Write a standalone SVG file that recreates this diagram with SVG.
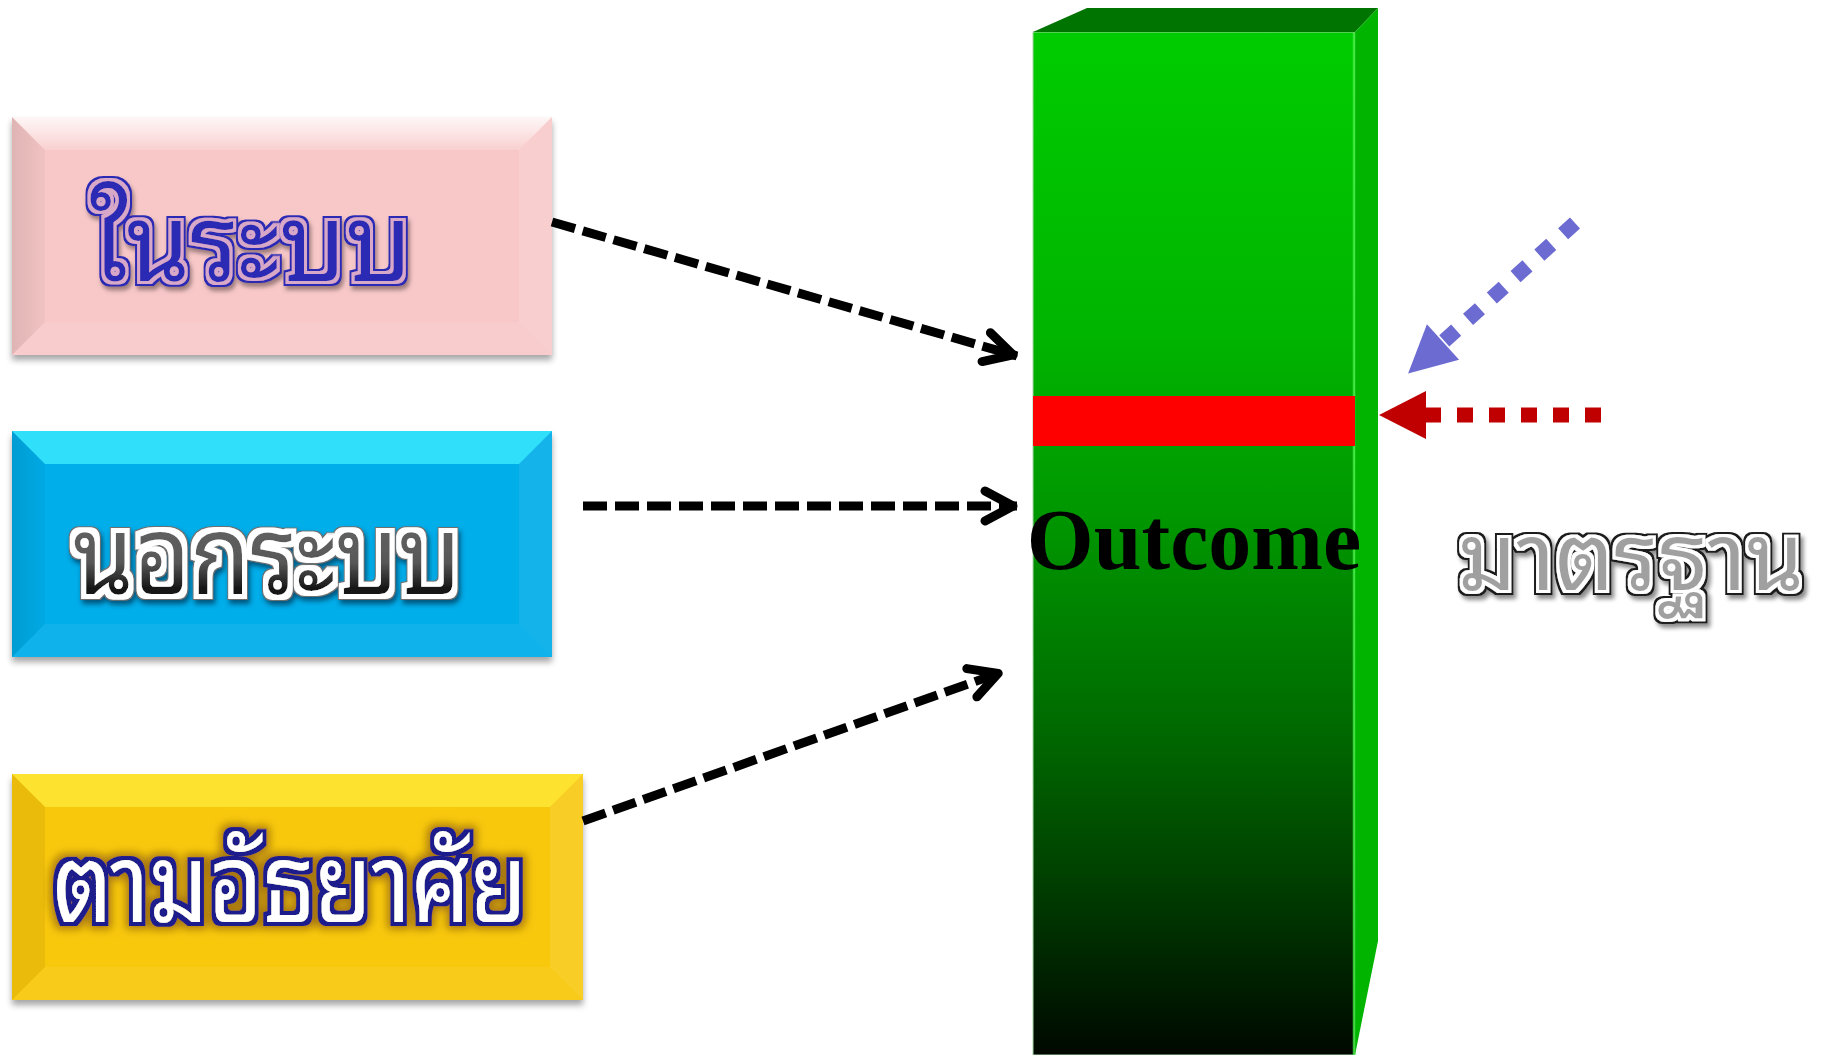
<svg xmlns="http://www.w3.org/2000/svg" width="1833" height="1055" viewBox="0 0 1833 1055">
<style>
.thai{font-family:"Noto Sans Thai Looped","Noto Sans Thai","Noto Serif Thai","Noto Sans",sans-serif;font-weight:normal;}
.dashblk{fill:none;stroke:#000;stroke-width:9;stroke-dasharray:24 8;}
.dot{fill:none;stroke-width:15;stroke-dasharray:16 16;}
</style>
<defs>
<filter id="boxShadow" x="-5%" y="-5%" width="110%" height="115%">
<feDropShadow dx="0" dy="5" stdDeviation="3" flood-color="#000" flood-opacity="0.35"/>
</filter>
<linearGradient id="gTop" x1="0" y1="0" x2="0" y2="1">
<stop offset="0" stop-color="#fff" stop-opacity="0.85"/>
<stop offset="1" stop-color="#fff" stop-opacity="0.15"/>
</linearGradient>
<linearGradient id="gLeft" x1="0" y1="0" x2="1" y2="0">
<stop offset="0" stop-color="#000" stop-opacity="0.10"/>
<stop offset="1" stop-color="#000" stop-opacity="0.03"/>
</linearGradient>
<linearGradient id="gGreen" x1="0" y1="0" x2="0" y2="1">
<stop offset="0" stop-color="#00cc00"/>
<stop offset="0.3" stop-color="#00b400"/>
<stop offset="0.5" stop-color="#009200"/>
<stop offset="0.68" stop-color="#006a00"/>
<stop offset="0.82" stop-color="#004200"/>
<stop offset="1" stop-color="#000800"/>
</linearGradient>
<linearGradient id="gGray" x1="0" y1="0" x2="0" y2="1">
<stop offset="0" stop-color="#707070"/>
<stop offset="0.6" stop-color="#585858"/>
<stop offset="0.75" stop-color="#151515"/>
<stop offset="1" stop-color="#000"/>
</linearGradient>
<filter id="fBlue" x="-10%" y="-30%" width="120%" height="160%">
<feMorphology in="SourceAlpha" operator="dilate" radius="5" result="d5"/>
<feOffset in="d5" dx="2" dy="4" result="o5"/>
<feGaussianBlur in="o5" stdDeviation="2" result="b5"/>
<feFlood flood-color="#604848" flood-opacity="0.6"/>
<feComposite in2="b5" operator="in" result="sh"/>
<feFlood flood-color="#2a2ab4"/>
<feComposite in2="d5" operator="in" result="outer"/>
<feMorphology in="SourceAlpha" operator="dilate" radius="2.5" result="d2"/>
<feFlood flood-color="#d8a8c8"/>
<feComposite in2="d2" operator="in" result="ring"/>
<feMerge><feMergeNode in="sh"/><feMergeNode in="outer"/><feMergeNode in="ring"/><feMergeNode in="SourceGraphic"/></feMerge>
</filter>
<filter id="fWhite" x="-10%" y="-30%" width="120%" height="160%">
<feMorphology in="SourceAlpha" operator="dilate" radius="6" result="d6"/>
<feOffset in="d6" dx="2" dy="4" result="o6"/>
<feGaussianBlur in="o6" stdDeviation="2.5" result="b6"/>
<feFlood flood-color="#003050" flood-opacity="0.7"/>
<feComposite in2="b6" operator="in" result="sh"/>
<feFlood flood-color="#707070"/>
<feComposite in2="d6" operator="in" result="outer"/>
<feMorphology in="SourceAlpha" operator="dilate" radius="4.5" result="d4"/>
<feFlood flood-color="#ffffff"/>
<feComposite in2="d4" operator="in" result="ring"/>
<feMerge><feMergeNode in="sh"/><feMergeNode in="outer"/><feMergeNode in="ring"/><feMergeNode in="SourceGraphic"/></feMerge>
</filter>
<filter id="fGold" x="-10%" y="-30%" width="120%" height="160%">
<feMorphology in="SourceAlpha" operator="dilate" radius="7" result="d7"/>
<feGaussianBlur in="d7" stdDeviation="4" result="b7"/>
<feFlood flood-color="#9a6a10" flood-opacity="0.85"/>
<feComposite in2="b7" operator="in" result="glow"/>
<feMorphology in="SourceAlpha" operator="dilate" radius="3.5" result="d3"/>
<feFlood flood-color="#1c1c8c"/>
<feComposite in2="d3" operator="in" result="outer"/>
<feMerge><feMergeNode in="glow"/><feMergeNode in="outer"/><feMergeNode in="SourceGraphic"/></feMerge>
</filter>
<filter id="fStd" x="-10%" y="-30%" width="120%" height="160%">
<feMorphology in="SourceAlpha" operator="dilate" radius="5" result="d5"/>
<feOffset in="d5" dx="3" dy="4" result="o5"/>
<feGaussianBlur in="o5" stdDeviation="2" result="b5"/>
<feFlood flood-color="#000" flood-opacity="0.45"/>
<feComposite in2="b5" operator="in" result="sh"/>
<feFlood flood-color="#1a1a1a"/>
<feComposite in2="d5" operator="in" result="outer"/>
<feMorphology in="SourceAlpha" operator="dilate" radius="2.5" result="d2"/>
<feFlood flood-color="#ffffff"/>
<feComposite in2="d2" operator="in" result="ring"/>
<feMerge><feMergeNode in="sh"/><feMergeNode in="outer"/><feMergeNode in="ring"/><feMergeNode in="SourceGraphic"/></feMerge>
</filter>
<marker id="chev" markerUnits="userSpaceOnUse" viewBox="-40 -22 46 44" markerWidth="46" markerHeight="44" refX="0" refY="0" orient="auto">
<path d="M-32,-15 L-4,0 L-32,15" fill="none" stroke="#000" stroke-width="9" stroke-linecap="round" stroke-linejoin="round"/>
</marker>
<marker id="triBlue" markerUnits="userSpaceOnUse" viewBox="-2 -26 52 52" markerWidth="52" markerHeight="52" refX="0" refY="0" orient="auto">
<path d="M0,-24 L47,0 L0,24 z" fill="#6b6bd2"/>
</marker>
<marker id="triRed" markerUnits="userSpaceOnUse" viewBox="-2 -26 52 52" markerWidth="52" markerHeight="52" refX="0" refY="0" orient="auto">
<path d="M0,-24 L47,0 L0,24 z" fill="#c00000"/>
</marker>
</defs>
<rect width="1833" height="1055" fill="#fff"/>

<g id="node-outcome">
<rect x="1033" y="32" width="322" height="1023" fill="url(#gGreen)" stroke="#a8d8a8" stroke-width="1"/>
<polygon points="1033,32 1087,8 1378,8 1355,32" fill="#007400"/>
<polygon points="1355,32 1378,8 1378,941 1355,1055" fill="#00b400"/>
<line x1="1354" y1="33" x2="1354" y2="1055" stroke="#44ee44" stroke-width="2.5" opacity="0.8"/>
<rect x="1033" y="396" width="322" height="50" fill="#ff0000"/>
<text x="1194" y="569" text-anchor="middle" font-family="'Liberation Serif','Times New Roman',serif" font-weight="bold" font-size="86" fill="#000">Outcome</text>
</g>

<g id="node-inside">
<g filter="url(#boxShadow)">
<rect x="12" y="117" width="540" height="238" fill="#f8c8c8"/>
</g>
<polygon points="12,117 552,117 519,150 45,150" fill="url(#gTop)"/>
<polygon points="12,117 45,150 45,322 12,355" fill="url(#gLeft)"/>
<polygon points="552,117 552,355 519,322 519,150" fill="#fff" opacity="0.12"/>
<polygon points="12,355 45,322 519,322 552,355" fill="#fff" opacity="0.08"/>
<text class="thai" x="251" y="281" text-anchor="middle" font-size="108" textLength="322" lengthAdjust="spacingAndGlyphs" fill="#2a2ab4" filter="url(#fBlue)">ในระบบ</text>
</g>

<g id="node-outside">
<g filter="url(#boxShadow)">
<rect x="12" y="431" width="540" height="226" fill="#06aeea"/>
</g>
<polygon points="12,431 552,431 519,464 45,464" fill="#40f0ff" opacity="0.75"/>
<polygon points="12,431 45,464 45,624 12,657" fill="url(#gLeft)"/>
<polygon points="552,431 552,657 519,624 519,464" fill="#fff" opacity="0.08"/>
<polygon points="12,657 45,624 519,624 552,657" fill="#fff" opacity="0.06"/>
<text class="thai" x="267" y="594" text-anchor="middle" font-size="110" textLength="388" lengthAdjust="spacingAndGlyphs" fill="url(#gGray)" filter="url(#fWhite)">นอกระบบ</text>
</g>

<g id="node-informal">
<g filter="url(#boxShadow)">
<rect x="12" y="774" width="571" height="226" fill="#f8c808"/>
</g>
<polygon points="12,774 583,774 550,807 45,807" fill="#ffee40" opacity="0.7"/>
<polygon points="12,774 45,807 45,967 12,1000" fill="#a07000" opacity="0.15"/>
<polygon points="583,774 583,1000 550,967 550,807" fill="#fff" opacity="0.1"/>
<polygon points="12,1000 45,967 550,967 583,1000" fill="#fff" opacity="0.06"/>
<text class="thai" x="290" y="922" text-anchor="middle" font-size="110" textLength="474" lengthAdjust="spacingAndGlyphs" fill="#ffffff" filter="url(#fGold)">ตามอัธยาศัย</text>
</g>

<g id="node-standard">
<text class="thai" x="1458" y="590" text-anchor="start" font-size="94" textLength="346" lengthAdjust="spacingAndGlyphs" fill="#a0a0a0" filter="url(#fStd)">มาตรฐาน</text>
</g>

<g id="connectors">
<line class="dashblk" x1="552" y1="222" x2="1017" y2="356" marker-end="url(#chev)"/>
<line class="dashblk" x1="583" y1="506" x2="1017" y2="506" marker-end="url(#chev)"/>
<line class="dashblk" x1="583" y1="821" x2="1002" y2="672" marker-end="url(#chev)"/>
<line class="dot" stroke="#6b6bd2" x1="1575" y1="223" x2="1443" y2="342" marker-end="url(#triBlue)"/>
<line class="dot" stroke="#c00000" x1="1601" y1="415" x2="1426" y2="415" marker-end="url(#triRed)"/>
</g>
</svg>
